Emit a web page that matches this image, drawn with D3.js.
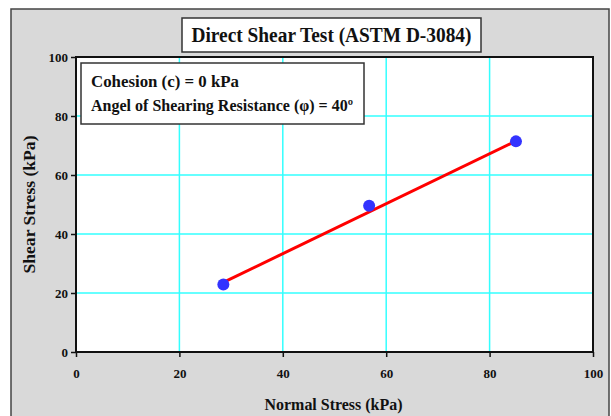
<!DOCTYPE html>
<html><head><meta charset="utf-8">
<script src="https://cdn.jsdelivr.net/npm/d3@7"></script>
<style>body{margin:0;background:#fff}svg{display:block}</style>
</head><body>
<script>
const chartTitle = "Direct Shear Test (ASTM D-3084)";
const annotationLines = ["Cohesion (c) = 0 kPa", "Angel of Shearing Resistance (\u03c6) = 40\u00ba"];
const normalStress = [28.5, 56.7, 85.1];
const shearStress = [22.9, 49.6, 71.4];
const fitX = [28.5, 85.1];
const fitY = [23.6, 71.5];
const xTicks = [0, 20, 40, 60, 80, 100];
const yTicks = [0, 20, 40, 60, 80, 100];
const xLabel = "Normal Stress (kPa)";
const yLabel = "Shear Stress (kPa)";

const W = 611, H = 416;
const svg = d3.select("body").append("svg").attr("width", W).attr("height", H);
const font = "'Liberation Serif','Times New Roman',serif";

// outer chart area
svg.append("rect").attr("x", 11).attr("y", 9).attr("width", 598).attr("height", 420)
  .attr("fill", "#d9d9d9").attr("stroke", "#444").attr("stroke-width", 1.5);

const L = 76, R = 593, T = 57, B = 352;
const x = d3.scaleLinear().domain([0, 100]).range([L, R]);
const y = d3.scaleLinear().domain([0, 100]).range([B, T]);

svg.append("rect").attr("x", L).attr("y", T).attr("width", R - L).attr("height", B - T).attr("fill", "#fff");

// grid
const g = svg.append("g");
g.selectAll("line.vx").data(xTicks.filter(d => d > 0 && d < 100)).enter().append("line")
  .attr("x1", d => x(d)).attr("x2", d => x(d)).attr("y1", T).attr("y2", B)
  .attr("stroke", "#33ffff").attr("stroke-width", 1.5);
g.selectAll("line.hy").data(yTicks.filter(d => d > 0 && d < 100)).enter().append("line")
  .attr("y1", d => y(d)).attr("y2", d => y(d)).attr("x1", L).attr("x2", R)
  .attr("stroke", "#33ffff").attr("stroke-width", 1.5);

// plot border
svg.append("rect").attr("x", L).attr("y", T).attr("width", R - L).attr("height", B - T)
  .attr("fill", "none").attr("stroke", "#111").attr("stroke-width", 2);

// axes
const xAxis = svg.append("g").attr("transform", `translate(0,${B})`)
  .call(d3.axisBottom(x).tickValues(xTicks).tickSize(5).tickPadding(12).tickFormat(d3.format("d")));
const yAxis = svg.append("g").attr("transform", `translate(${L},0)`)
  .call(d3.axisLeft(y).tickValues(yTicks).tickSize(5).tickPadding(3).tickFormat(d3.format("d")));
[xAxis, yAxis].forEach(a => {
  a.select(".domain").remove();
  a.selectAll(".tick line").attr("stroke", "#111").attr("stroke-width", 1.5);
  a.selectAll(".tick text").attr("font-family", font).attr("font-weight", "bold")
    .attr("font-size", 13).attr("fill", "#111");
});

// fit line
svg.append("path").datum(fitX.map((d, i) => [d, fitY[i]]))
  .attr("d", d3.line().x(d => x(d[0])).y(d => y(d[1])))
  .attr("stroke", "#ff0000").attr("stroke-width", 3).attr("fill", "none");

// points
svg.selectAll("circle.pt").data(normalStress.map((d, i) => [d, shearStress[i]])).enter()
  .append("circle").attr("cx", d => x(d[0])).attr("cy", d => y(d[1])).attr("r", 6)
  .attr("fill", "#3333ff");

// title box
svg.append("rect").attr("x", 182).attr("y", 18).attr("width", 299).attr("height", 34)
  .attr("fill", "#fff").attr("stroke", "#333").attr("stroke-width", 1.5);
svg.append("text").attr("x", 331.5).attr("y", 42).attr("text-anchor", "middle")
  .attr("font-family", font).attr("font-weight", "bold").attr("font-size", 20)
  .attr("fill", "#111").attr("textLength", 280).attr("lengthAdjust", "spacingAndGlyphs")
  .text(chartTitle);

// annotation box
svg.append("rect").attr("x", 81).attr("y", 63).attr("width", 283).attr("height", 61)
  .attr("fill", "#fff").attr("stroke", "#333").attr("stroke-width", 1.5);
const annLens = [148, 262];
svg.selectAll("text.ann").data(annotationLines).enter().append("text")
  .attr("x", 91).attr("y", (d, i) => 87 + i * 24)
  .attr("font-family", font).attr("font-weight", "bold").attr("font-size", 16.5).attr("fill", "#111")
  .attr("textLength", (d, i) => annLens[i]).attr("lengthAdjust", "spacingAndGlyphs")
  .text(d => d);

// axis titles
svg.append("text").attr("x", (L + R) / 2 - 1).attr("y", 410).attr("text-anchor", "middle")
  .attr("font-family", font).attr("font-weight", "bold").attr("font-size", 16).attr("fill", "#111")
  .attr("textLength", 138).attr("lengthAdjust", "spacingAndGlyphs").text(xLabel);
svg.append("text").attr("transform", `translate(35,${(T + B) / 2}) rotate(-90)`).attr("text-anchor", "middle")
  .attr("font-family", font).attr("font-weight", "bold").attr("font-size", 16).attr("fill", "#111")
  .attr("textLength", 138).attr("lengthAdjust", "spacingAndGlyphs").text(yLabel);
</script>
</body></html>
